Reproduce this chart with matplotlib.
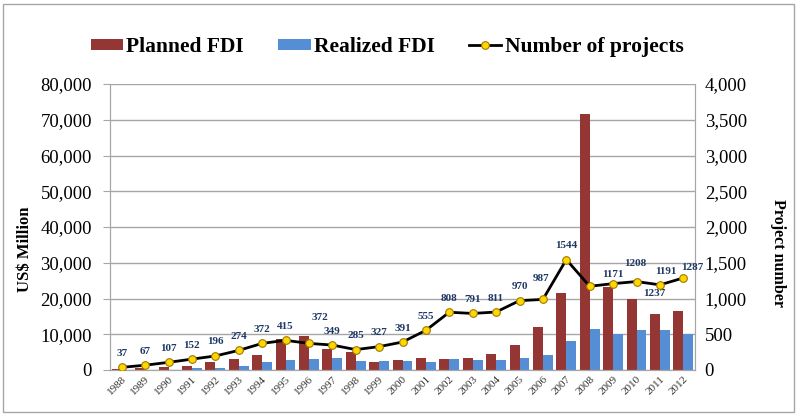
import matplotlib
matplotlib.use("Agg")
import matplotlib.pyplot as plt
import numpy as np
from matplotlib.ticker import FuncFormatter, MultipleLocator
from matplotlib.patches import Rectangle

years = [str(y) for y in range(1988, 2013)]
planned_fdi = [200, 500, 850, 1200, 2150, 3000, 4200, 8600, 9500, 6000, 5050, 2240,
               2800, 3270, 3080, 3270, 4570, 7000, 12100, 21400, 71600, 23250, 20000, 15800, 16400]
realized_fdi = [0, 0, 0, 450, 650, 1000, 2250, 2800, 3000, 3300, 2430, 2600,
                2430, 2150, 3000, 2800, 2800, 3270, 4100, 8100, 11550, 10100, 11100, 11100, 10100]
projects = [37, 67, 107, 152, 196, 274, 372, 415, 372, 349, 285, 327, 391, 555,
            808, 791, 811, 970, 987, 1544, 1171, 1208, 1237, 1191, 1287]

# label offsets in pixels (dx, dy) relative to each point
label_offsets = [(0, 14)] * 25
label_offsets = list(label_offsets)
label_offsets[8] = (11, 26)
label_offsets[18] = (-2, 21)
label_offsets[20] = (23, 12)
label_offsets[21] = (22, 20)
label_offsets[22] = (18, -12)
label_offsets[23] = (6, 13)
label_offsets[24] = (9, 10)

plt.rcParams['font.family'] = ['Liberation Serif', 'DejaVu Serif']

fig = plt.figure(figsize=(7.99, 4.16), dpi=100)
ax = fig.add_axes([110 / 799, 1 - 370 / 416, 585 / 799, 286 / 416])
ax2 = ax.twinx()

x = np.arange(len(years))
w = 0.42
ax.bar(x - w / 2, planned_fdi, width=w, color='#943634', label='Planned FDI', zorder=2)
ax.bar(x + w / 2, realized_fdi, width=w, color='#558ED5', label='Realized FDI', zorder=2)
ax.set_ylim(0, 80000)
ax.set_xlim(-0.5, len(years) - 0.5)
ax.yaxis.set_major_locator(MultipleLocator(10000))
ax.yaxis.set_major_formatter(FuncFormatter(lambda v, p: f"{int(v):,}"))
ax.grid(axis='y', color='#a6a6a6', linewidth=1, zorder=0)
ax.set_axisbelow(True)
ax.set_xticks(x)
ax.set_xticklabels(years, rotation=45, fontsize=8, ha='right', rotation_mode='anchor', color='#333333')
ax.tick_params(axis='x', length=0, pad=3)
ax.tick_params(axis='y', labelsize=13.5, length=5, color='#a6a6a6', pad=8)

line, = ax2.plot(x, projects, color='black', linewidth=2, marker='o', markersize=5.5,
                 markerfacecolor='#FFD700', markeredgecolor='#A07800', markeredgewidth=0.8,
                 label='Number of projects', zorder=5)
ax2.set_ylim(0, 4000)
ax2.yaxis.set_major_locator(MultipleLocator(500))
ax2.yaxis.set_major_formatter(FuncFormatter(lambda v, p: f"{int(v):,}"))
ax2.tick_params(axis='y', labelsize=13.5, length=0, color='#a6a6a6', pad=7)

for xi, v, (dx, dy) in zip(x, projects, label_offsets):
    ax2.annotate(str(v), (xi, v), xytext=(dx, dy), textcoords='offset pixels',
                 ha='center', va='center', fontsize=8, fontweight='bold', color='#1F3864')

for a in (ax, ax2):
    for s in a.spines.values():
        s.set_color('#a6a6a6')
    a.spines['top'].set_visible(False)

ax.set_ylabel('US$ Million', fontsize=12, fontweight='bold')
ax.yaxis.set_label_coords(-0.145, 0.423)
ax.yaxis.label.set_va('center')
ax2.set_ylabel('Project number', fontsize=11.5, fontweight='bold', rotation=270)
ax2.yaxis.set_label_coords(1.142, 0.409)
ax2.yaxis.label.set_va('center')

handles = [ax.containers[0], ax.containers[1], line]
fig.legend(handles, ['Planned FDI', 'Realized FDI', 'Number of projects'],
           loc='center', bbox_to_anchor=(387 / 799, 1 - 47 / 416), ncol=3, frameon=False,
           prop={'weight': 'bold', 'size': 15.5}, handlelength=1.5, handleheight=0.4,
           columnspacing=1.6, handletextpad=0.15)

fig.patches.append(Rectangle((3 / 799, 4 / 416), 791 / 799, 408 / 416, transform=fig.transFigure,
                             fill=False, edgecolor='#a6a6a6', linewidth=1))

fig.savefig('out.png', dpi=100)
